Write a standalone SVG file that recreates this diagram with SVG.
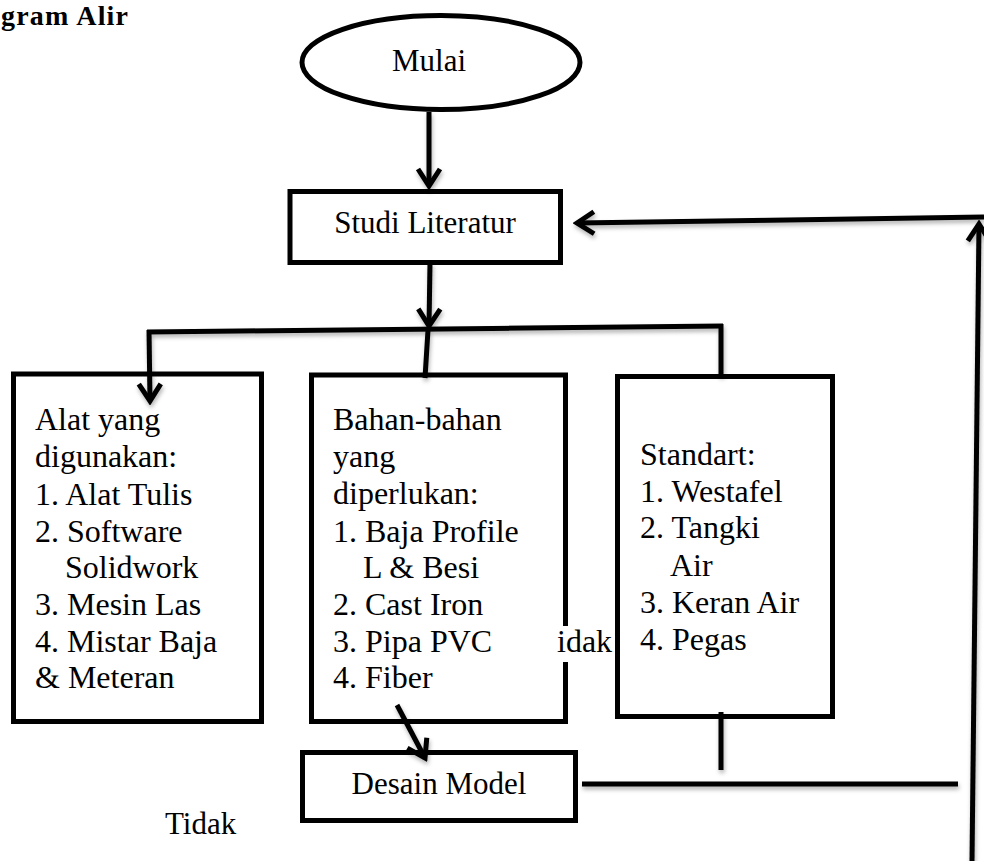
<svg xmlns="http://www.w3.org/2000/svg" width="984" height="861" viewBox="0 0 984 861">
<style>
.box{fill:#fff;stroke:#000;stroke-width:5}
.t{font-family:"Liberation Serif","Times New Roman",serif;font-size:32px;fill:#000}
.s{font-size:31px}
.c{fill:none;stroke:#000;stroke-width:5;stroke-linecap:butt}
</style>
<defs>
<filter id="sh" x="-5%" y="-20%" width="110%" height="140%">
<feDropShadow dx="1" dy="3" stdDeviation="2" flood-color="#000" flood-opacity="0.3"/>
</filter>
<marker id="ah" viewBox="-22 -14 26 28" refX="0" refY="0" markerWidth="26" markerHeight="28" markerUnits="userSpaceOnUse" orient="auto">
<path d="M-17,-11 L0,0 L-17,11" fill="none" stroke="#000" stroke-width="5" stroke-linejoin="miter"/>
</marker>
</defs>
<rect width="984" height="861" fill="#fff"/>
<text x="1" y="25" class="t" style="font-weight:bold;font-size:28px;letter-spacing:1.2px">gram Alir</text>

<g id="mulai">
<ellipse cx="441" cy="62.5" rx="139" ry="47" class="box"/>
<text x="392" y="71" class="t s">Mulai</text>
</g>

<g id="studi">
<rect x="290" y="191.5" width="270.5" height="71" class="box"/>
<text x="425" y="233" class="t s" text-anchor="middle">Studi Literatur</text>
</g>

<g id="alat">
<rect x="13.5" y="374" width="248" height="347.5" class="box"/>
<text class="t">
<tspan x="35" y="430">Alat yang</tspan>
<tspan x="35" y="467">digunakan:</tspan>
<tspan x="35" y="505">1. Alat Tulis</tspan>
<tspan x="35" y="542">2. Software</tspan>
<tspan x="65" y="578">Solidwork</tspan>
<tspan x="35" y="615">3. Mesin Las</tspan>
<tspan x="35" y="652">4. Mistar Baja</tspan>
<tspan x="35" y="688">&amp; Meteran</tspan>
</text>
</g>

<g id="bahan">
<rect x="311.5" y="375" width="254" height="346.5" class="box"/>
<text class="t">
<tspan x="333" y="430">Bahan-bahan</tspan>
<tspan x="333" y="467">yang</tspan>
<tspan x="333" y="504">diperlukan:</tspan>
<tspan x="333" y="542">1. Baja Profile</tspan>
<tspan x="363" y="578">L &amp; Besi</tspan>
<tspan x="333" y="615">2. Cast Iron</tspan>
<tspan x="333" y="652">3. Pipa PVC</tspan>
<tspan x="333" y="688">4. Fiber</tspan>
</text>
</g>

<g id="label-tidak-1">
<rect x="556" y="626" width="60" height="36" fill="#fff"/>
<text x="557" y="652" class="t">idak</text>
</g>

<g id="standart">
<rect x="617.5" y="376.5" width="215" height="340" class="box"/>
<text class="t">
<tspan x="640" y="465">Standart:</tspan>
<tspan x="640" y="502">1. Westafel</tspan>
<tspan x="640" y="538">2. Tangki</tspan>
<tspan x="670" y="576">Air</tspan>
<tspan x="640" y="613">3. Keran Air</tspan>
<tspan x="640" y="650">4. Pegas</tspan>
</text>
</g>

<g id="desain">
<rect x="302.5" y="752.5" width="273" height="68" class="box"/>
<text x="439" y="794" class="t s" text-anchor="middle">Desain Model</text>
</g>

<g id="label-tidak-2">
<text x="165" y="834" class="t s">Tidak</text>
</g>

<g id="connectors" filter="url(#sh)">
<path class="c" d="M429,112 L429,186" marker-end="url(#ah)"/>
<path class="c" d="M430,263 L429,326" marker-end="url(#ah)"/>
<path class="c" d="M147,332 L723,326"/>
<path class="c" d="M149,330 L150,401" marker-end="url(#ah)"/>
<path class="c" d="M428,330 L425,378"/>
<path class="c" d="M721,324 L721,376"/>
<path class="c" d="M397,705 L425,758" marker-end="url(#ah)"/>
<path class="c" d="M721,712 L721,770"/>
<path class="c" d="M582,784 L958,784"/>
<path class="c" d="M972,861 L979,224" marker-end="url(#ah)"/>
<path class="c" d="M984,217 L577,223" marker-end="url(#ah)"/>
</g>
</svg>
